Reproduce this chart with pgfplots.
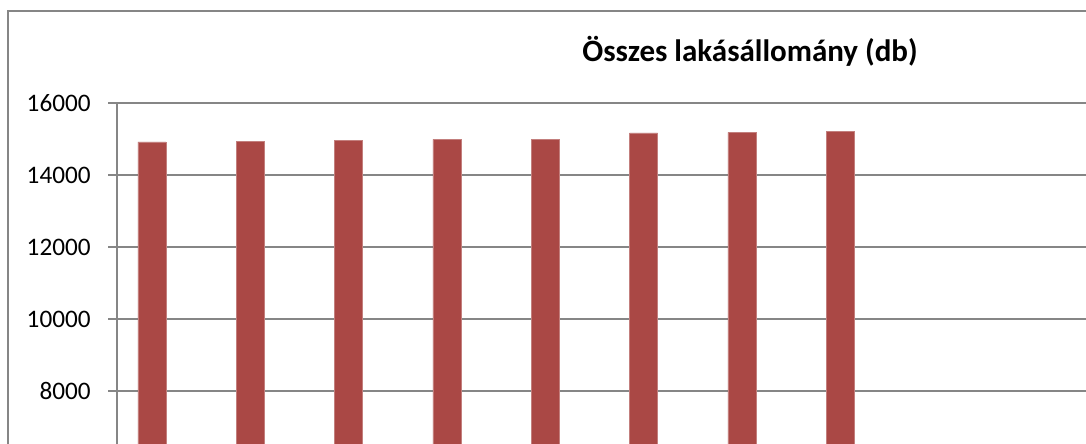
\documentclass[border=0pt]{standalone}
\usepackage{fontspec}
\setmainfont{Carlito}
\usepackage{pgfplots}
\pgfplotsset{compat=1.18}
\definecolor{barred}{RGB}{170,72,69}
\definecolor{gridgray}{RGB}{134,134,134}

\begin{document}
\begin{tikzpicture}
% cropped view: 1086x444 px at 0.5pt per px
\useasboundingbox (0,0) rectangle (543pt,222pt);
\clip (0,0) rectangle (543pt,222pt);
\draw[gridgray, line width=0.8pt] (4pt,-20pt) -- (4pt,216.5pt) -- (560pt,216.5pt);
\begin{axis}[
  at={(58.5pt,-117.5pt)}, anchor=south west,
  scale only axis,
  width=491.5pt, height=288pt,
  xmin=0.644, xmax=10.644,
  ymin=0, ymax=16000,
  ybar, bar width=14pt,
  axis y line*=left, axis x line*=bottom,
  axis line style={gridgray, line width=0.8pt},
  xtick=\empty,
  ytick={8000,10000,...,16000},
  scaled y ticks=false,
  ymajorgrids,
  grid style={gridgray, line width=0.8pt},
  tick align=outside,
  major tick length=4.5pt,
  tick style={gridgray, line width=0.8pt},
  /pgf/number format/assume math mode=true,
  /pgf/number format/1000 sep={},
  yticklabel style={font=\fontsize{12.6}{14}\selectfont, anchor=east, inner sep=0pt, xshift=-8.5pt},
]
\addplot[fill=barred, draw=barred!70!white, line width=0.3pt] coordinates {
  (1,14917) (2,14944) (3,14972) (4,14990) (5,14990) (6,15167) (7,15185) (8,15213)
};
\end{axis}
\node[anchor=base, font=\fontsize{15.5}{18}\selectfont\bfseries] at (375pt,191pt) {Összes lakásállomány (db)};
\end{tikzpicture}
\end{document}
